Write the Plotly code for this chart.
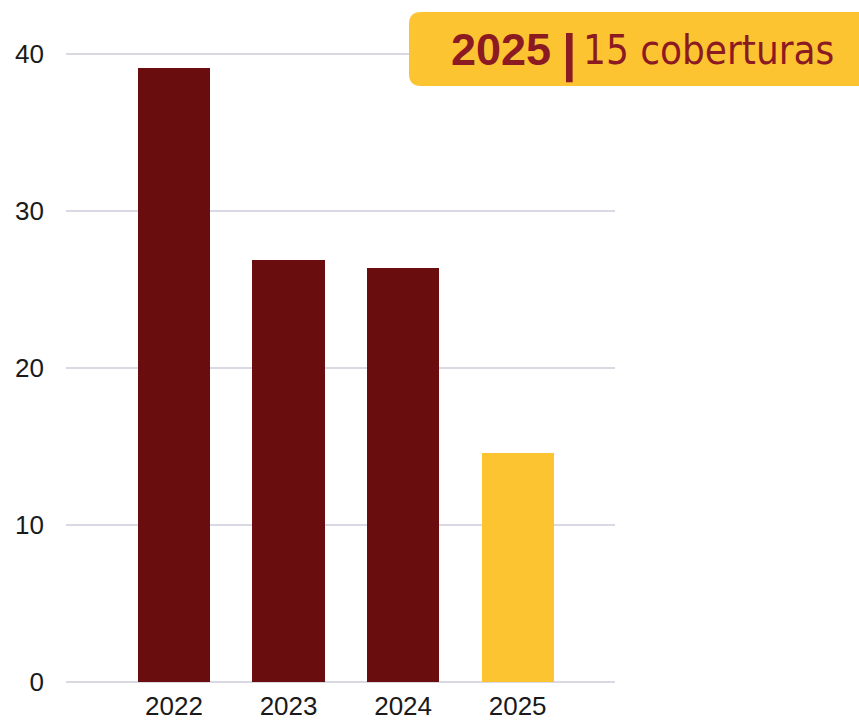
import plotly.graph_objects as go

years = ["2022", "2023", "2024", "2025"]
values = [39.1, 26.9, 26.4, 14.6]
bar_colors = ["#6A0D0F", "#6A0D0F", "#6A0D0F", "#FDC431"]
y_ticks = [0, 10, 20, 30, 40]
badge_year = "2025"
badge_text = "15 coberturas"

W, H = 859, 724
L, R, T, B = 66, 244, 52, 40
pw, ph = W - L - R, H - T - B
Y0, Y1 = -0.125, 40.125

def px2paper(px, py):
    return (px - L) / pw, (H - B - py) / ph

fig = go.Figure()
fig.add_trace(go.Bar(
    x=years, y=values, marker=dict(color=bar_colors, line=dict(width=0)),
    width=0.63, hoverinfo="skip",
))

# rounded badge
x0, y0 = px2paper(409, 86)
x1, y1 = px2paper(885, 12)
rx, ry = 12 / pw, 12 / ph
path = (f"M {x0+rx},{y0} L {x1},{y0} L {x1},{y1} L {x0+rx},{y1} "
        f"Q {x0},{y1} {x0},{y1-ry} L {x0},{y0+ry} Q {x0},{y0} {x0+rx},{y0} Z")
fig.add_shape(type="path", path=path, xref="paper", yref="paper",
              fillcolor="#FDC431", line=dict(width=0), layer="above")

ax, ay = px2paper(449, 50)
fig.add_annotation(x=ax, y=ay, xref="paper", yref="paper", xanchor="left", yanchor="middle",
                   text=f"<b>{badge_year}</b>", showarrow=False,
                   font=dict(family="Liberation Sans", size=45, color="#8B1A22"))
bx, by = px2paper(560, 53)
fig.add_annotation(x=bx, y=by, xref="paper", yref="paper", xanchor="left", yanchor="middle",
                   text="<b>|</b>", showarrow=False,
                   font=dict(family="Liberation Sans", size=52, color="#8B1A22"))
cx, cy = px2paper(581, 50)
fig.add_annotation(x=cx, y=cy, xref="paper", yref="paper", xanchor="left", yanchor="middle",
                   text=badge_text, showarrow=False,
                   font=dict(family="DejaVu Sans Condensed, Liberation Sans Narrow", size=40, color="#8B1A22"))

fig.update_layout(
    width=W, height=H, margin=dict(l=L, r=R, t=T, b=B, autoexpand=False),
    paper_bgcolor="white", plot_bgcolor="white", showlegend=False,
    bargap=0,
    xaxis=dict(type="category", range=[-0.943, 3.85], showgrid=False, zeroline=False,
               showline=False, ticks="", ticklabelstandoff=4, automargin=False,
               tickfont=dict(family="Liberation Sans", size=26, color="#1a1a1a")),
    yaxis=dict(range=[Y0, Y1], tickvals=y_ticks, showgrid=True, gridcolor="#D9D9E3",
               gridwidth=1.5, zeroline=False, showline=False, ticks="",
               ticklabelstandoff=21, automargin=False,
               tickfont=dict(family="Liberation Sans", size=26, color="#1a1a1a")),
)

fig.write_html("out.html")
